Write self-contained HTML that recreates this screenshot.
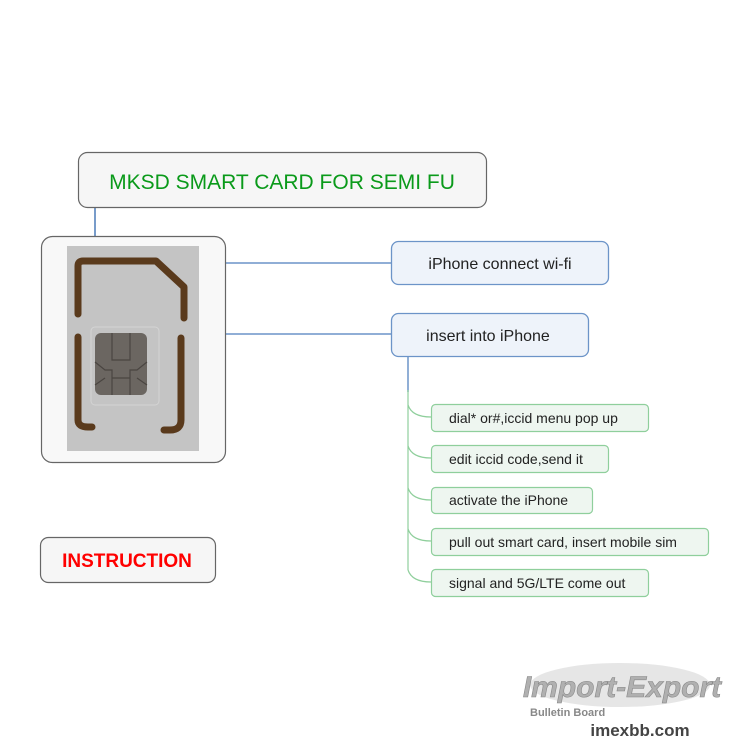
<!DOCTYPE html>
<html><head><meta charset="utf-8"><style>
html,body{margin:0;padding:0;background:#fff;}
svg{display:block;}
text{font-family:"Liberation Sans",sans-serif;}
</style></head><body>
<svg width="750" height="750" viewBox="0 0 750 750" xmlns="http://www.w3.org/2000/svg">
<line x1="95" y1="207" x2="95" y2="236" stroke="#4a7ab8" stroke-width="1.5"/>
<line x1="225" y1="263" x2="391" y2="263" stroke="#6c94c8" stroke-width="1.5"/>
<line x1="225" y1="334" x2="391" y2="334" stroke="#6c94c8" stroke-width="1.5"/>
<line x1="408" y1="356" x2="408" y2="392" stroke="#6c94c8" stroke-width="1.5"/>
<g fill="none" stroke="#8fcf9c" stroke-width="1.2">
<line x1="408" y1="390" x2="408" y2="570"/>
<path d="M408 405 Q412 417 431 417"/>
<path d="M408 446 Q412 458 431 458"/>
<path d="M408 488 Q412 500 431 500"/>
<path d="M408 529 Q412 541 431 541"/>
<path d="M408 570 Q412 582 431 582"/>
</g>
<rect x="78.5" y="152.5" width="408" height="55" rx="9" fill="#f6f6f6" stroke="#666" stroke-width="1.2"/>
<text x="282" y="189" text-anchor="middle" font-size="21" fill="#0a9a1a">MKSD SMART CARD FOR SEMI FU</text>
<rect x="41.5" y="236.5" width="184" height="226" rx="11" fill="#f8f8f8" stroke="#666" stroke-width="1.2"/>
<rect x="67" y="246" width="132" height="205" fill="#c4c4c4"/>
<rect x="91" y="327" width="68" height="78" rx="4" fill="none" stroke="#d4d4d4" stroke-width="1"/>
<g fill="none" stroke="#5a3a1c" stroke-width="7" stroke-linecap="round" stroke-linejoin="round">
<path d="M78 314 V266 Q78 261 83 261 H156 L184 287 V318"/>
<path d="M78 337 V420 Q78 427 88 427 H92"/>
<path d="M181 338 V420 Q181 430 170 430 H164"/>
</g>
<rect x="95" y="333" width="52" height="62" rx="6" fill="#6b6661"/>
<g fill="none" stroke="#4a4541" stroke-width="1.2">
<path d="M112 333 V360 H130 V333"/><path d="M95 362 L105 370 H112 V395"/><path d="M147 362 L137 370 H130 V395"/><path d="M112 378 H130"/><path d="M95 385 L105 378"/><path d="M147 385 L137 378"/>
</g>
<rect x="391.5" y="241.5" width="217" height="43" rx="7" fill="#eef3fa" stroke="#6c94c8" stroke-width="1.3"/>
<text x="500" y="269" text-anchor="middle" font-size="16" fill="#222">iPhone connect wi-fi</text>
<rect x="391.5" y="313.5" width="197" height="43" rx="7" fill="#eef3fa" stroke="#6c94c8" stroke-width="1.3"/>
<text x="488" y="341" text-anchor="middle" font-size="16" fill="#222">insert into iPhone</text>
<g fill="#eef6f0" stroke="#8fcf9c" stroke-width="1.2">
<rect x="431.5" y="404.5" width="217" height="27" rx="4"/>
<rect x="431.5" y="445.5" width="177" height="27" rx="4"/>
<rect x="431.5" y="487.5" width="161" height="26" rx="4"/>
<rect x="431.5" y="528.5" width="277" height="27" rx="4"/>
<rect x="431.5" y="569.5" width="217" height="27" rx="4"/>
</g>
<g font-size="14" fill="#222">
<text x="449" y="423">dial* or#,iccid menu pop up</text>
<text x="449" y="464">edit iccid code,send it</text>
<text x="449" y="505">activate the iPhone</text>
<text x="449" y="547">pull out smart card, insert mobile sim</text>
<text x="449" y="588">signal and 5G/LTE come out</text>
</g>
<rect x="40.5" y="537.5" width="175" height="45" rx="8" fill="#f6f6f6" stroke="#666" stroke-width="1.2"/>
<text x="127" y="567" text-anchor="middle" font-size="19" font-weight="bold" fill="#f00">INSTRUCTION</text>
<ellipse cx="620" cy="685" rx="90" ry="22" fill="#e6e6e6"/>
<text x="622" y="697" text-anchor="middle" font-family="Liberation Serif,serif" font-size="30" font-style="italic" font-weight="bold" fill="#b0b0b0" stroke="#888" stroke-width="0.6">Import-Export</text>
<text x="530" y="716" font-family="Liberation Serif,serif" font-size="11" font-weight="bold" fill="#888">Bulletin Board</text>
<text x="640" y="736" text-anchor="middle" font-size="17" font-weight="bold" fill="#444">imexbb.com</text>
</svg>
</body></html>
